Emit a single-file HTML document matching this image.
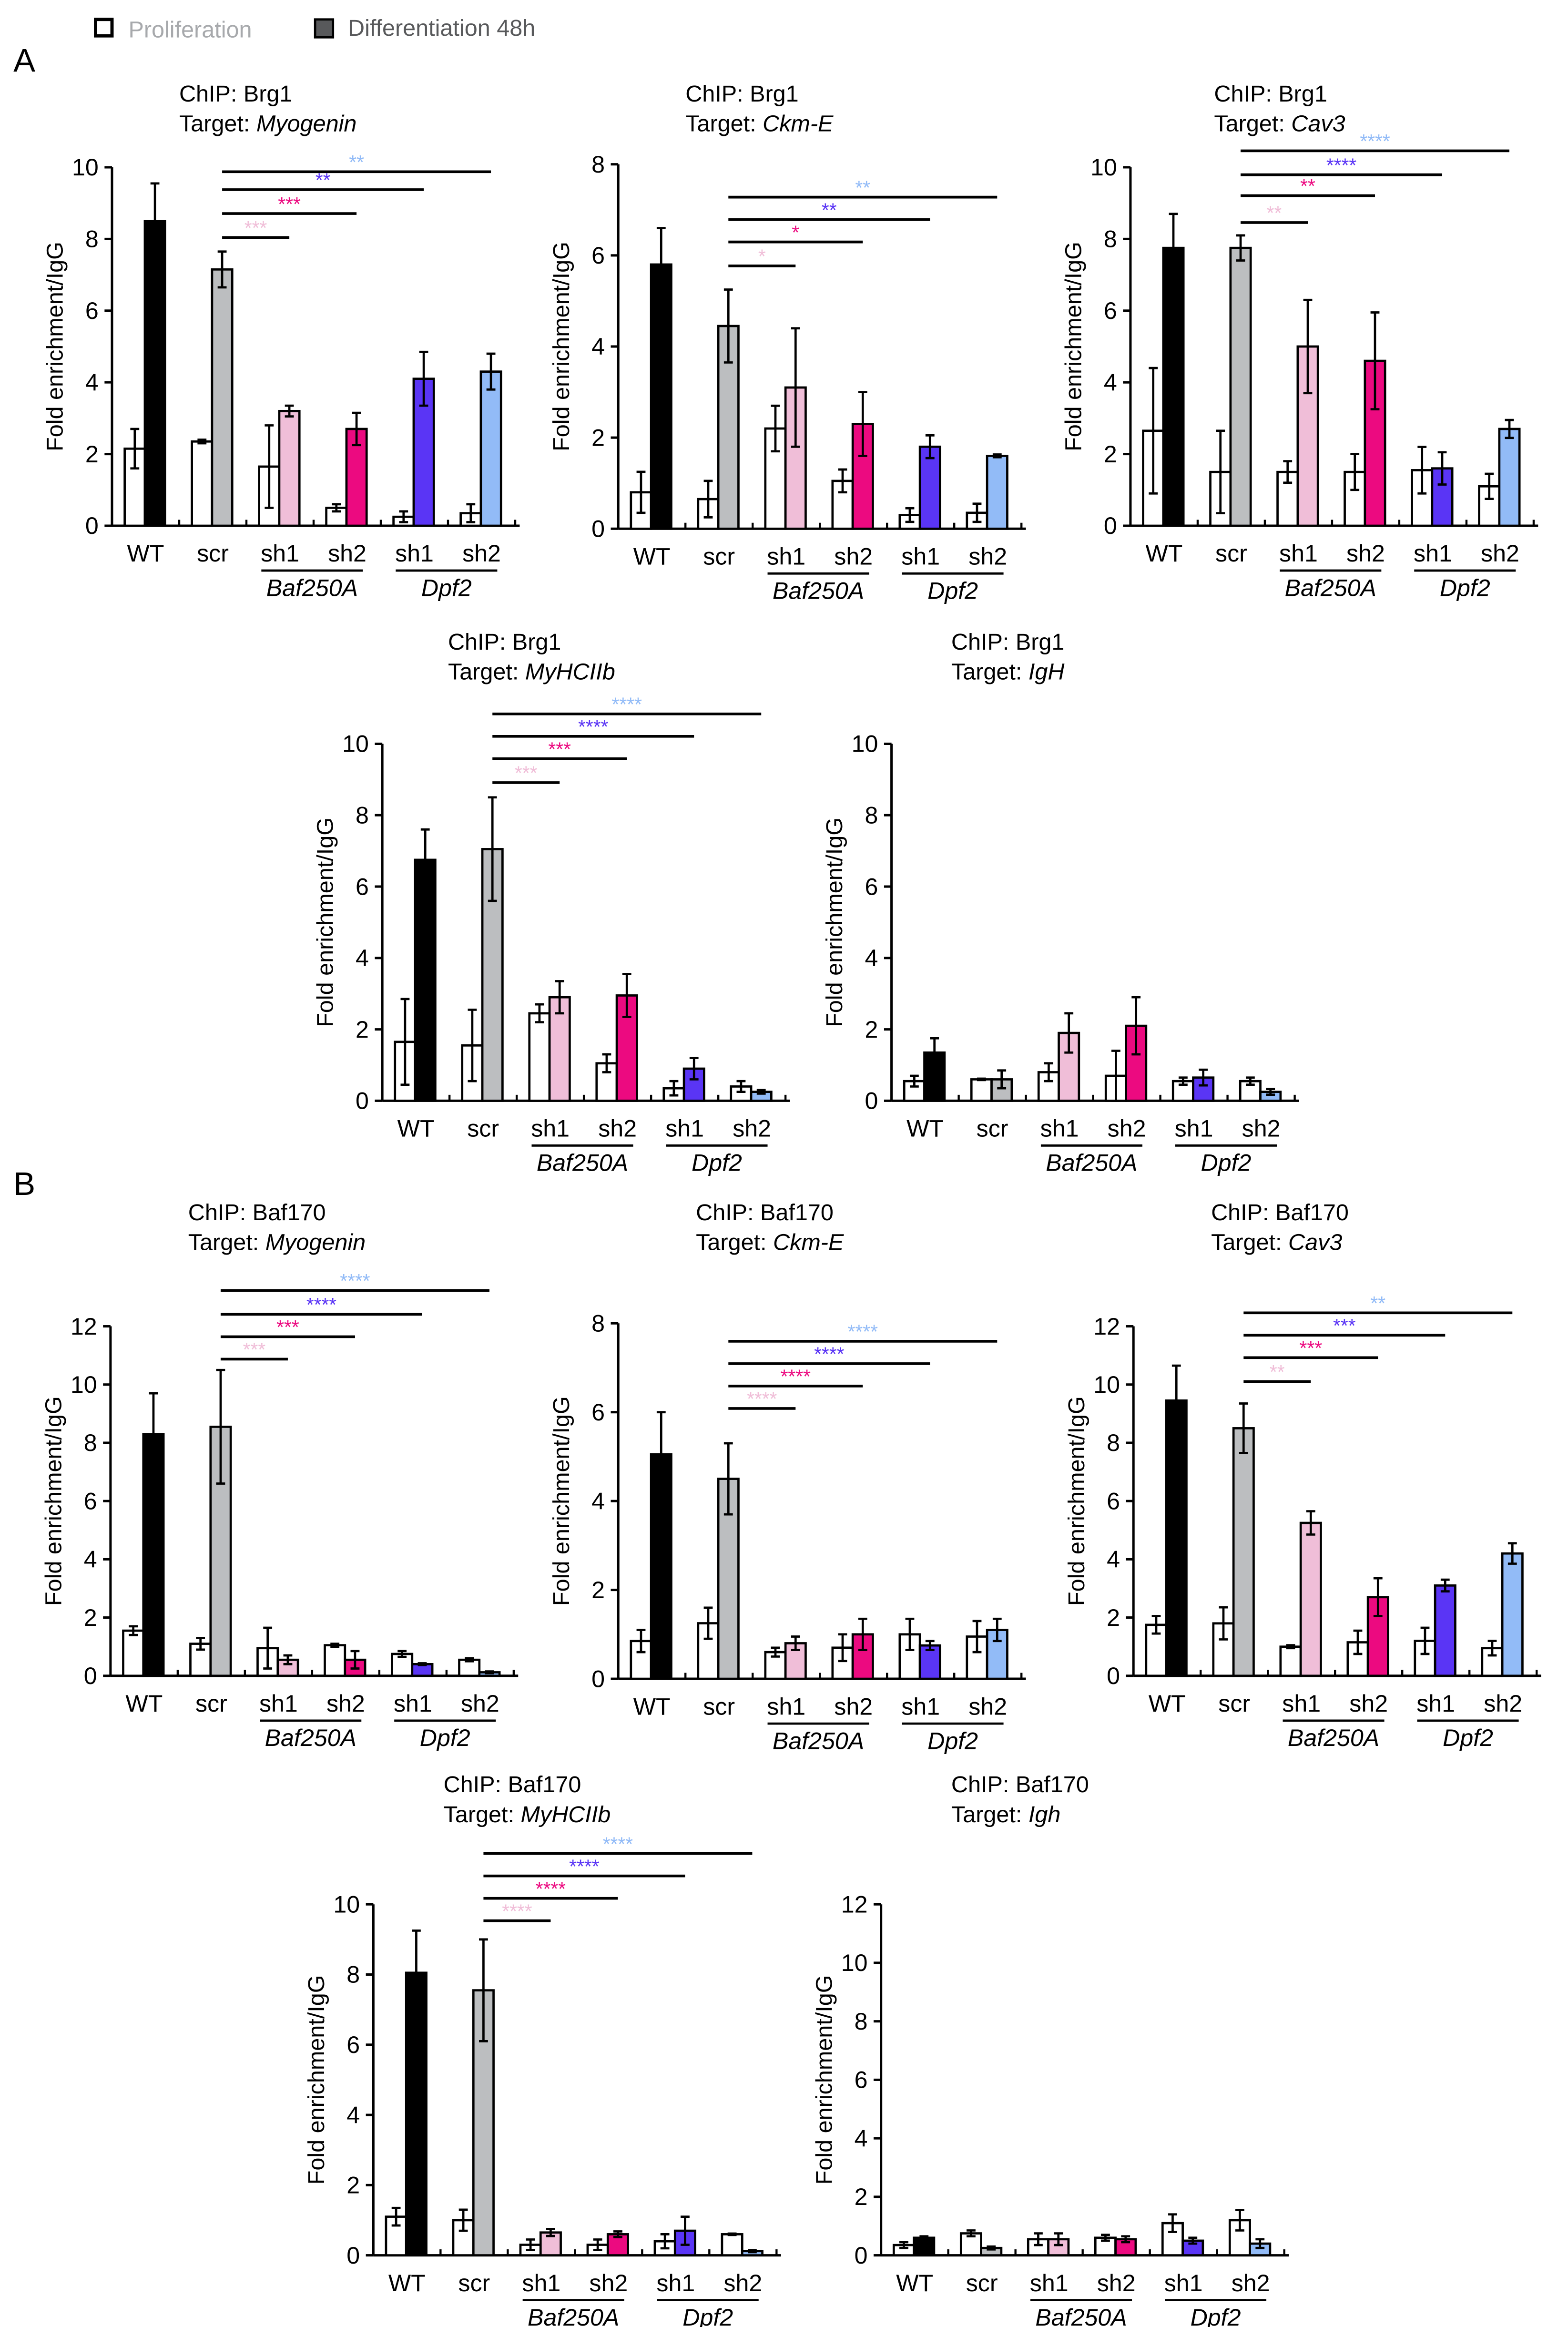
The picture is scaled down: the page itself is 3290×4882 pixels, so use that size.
<!DOCTYPE html>
<html><head><meta charset="utf-8"><style>
html,body{margin:0;padding:0;background:#fff;}
svg{display:block;font-family:"Liberation Sans",Arial,sans-serif;}
</style></head><body>
<svg id="fig" xmlns="http://www.w3.org/2000/svg" width="3290" height="4882" viewBox="0 0 1050 1558" preserveAspectRatio="none">
<rect x="0" y="0" width="1050" height="1558" fill="#fff"/>
<g>
<rect x="64" y="13" width="11" height="11" fill="#fff" stroke="#000" stroke-width="2.2"/>
<text x="86" y="25" font-size="15.5" fill="#a7a9ac">Proliferation</text>
<rect x="211" y="13" width="12" height="12" fill="#58595b" stroke="#000" stroke-width="1.5"/>
<text x="233" y="24" font-size="15.5" fill="#58595b">Differentiation 48h</text>
</g>
<text x="9" y="48" font-size="22">A</text>
<text x="9" y="800" font-size="22">B</text>
</svg>
<script>
const categories=["WT","scr","sh1","sh2","sh1","sh2"];
const diffColors=["#000","#bcbec0","#f0bed8","#ec0a80","#5a35f5","#92bbf7"];
const starColors=["#f0bed8","#ec0a80","#5a35f5","#92bbf7"];
// A1 Brg1 Myogenin
const a1Prolif=[2.15,2.35,1.65,0.5,0.25,0.35];
const a1ProlifErr=[0.55,0.05,1.15,0.1,0.15,0.25];
const a1Diff=[8.5,7.15,3.2,2.7,4.1,4.3];
const a1DiffErr=[1.05,0.5,0.15,0.45,0.75,0.5];
const a1Stars=["***","***","**","**"];
// A2 Brg1 Ckm-E
const a2Prolif=[0.8,0.65,2.2,1.05,0.3,0.35];
const a2ProlifErr=[0.45,0.4,0.5,0.25,0.15,0.2];
const a2Diff=[5.8,4.45,3.1,2.3,1.8,1.6];
const a2DiffErr=[0.8,0.8,1.3,0.7,0.25,0.03];
const a2Stars=["*","*","**","**"];
// A3 Brg1 Cav3
const a3Prolif=[2.65,1.5,1.5,1.5,1.55,1.1];
const a3ProlifErr=[1.75,1.15,0.3,0.5,0.65,0.35];
const a3Diff=[7.75,7.75,5.0,4.6,1.6,2.7];
const a3DiffErr=[0.95,0.35,1.3,1.35,0.45,0.25];
const a3Stars=["**","**","****","****"];
// A4 Brg1 MyHCIIb
const a4Prolif=[1.65,1.55,2.45,1.05,0.35,0.4];
const a4ProlifErr=[1.2,1.0,0.25,0.25,0.2,0.15];
const a4Diff=[6.75,7.05,2.9,2.95,0.9,0.25];
const a4DiffErr=[0.85,1.45,0.45,0.6,0.3,0.05];
const a4Stars=["***","***","****","****"];
// A5 Brg1 IgH
const a5Prolif=[0.55,0.6,0.8,0.7,0.55,0.55];
const a5ProlifErr=[0.15,0.02,0.25,0.7,0.1,0.1];
const a5Diff=[1.35,0.6,1.9,2.1,0.65,0.25];
const a5DiffErr=[0.4,0.25,0.55,0.8,0.22,0.08];
const a5Stars=[];
// B1 Baf170 Myogenin
const b1Prolif=[1.55,1.1,0.95,1.05,0.75,0.55];
const b1ProlifErr=[0.15,0.2,0.7,0.05,0.1,0.05];
const b1Diff=[8.3,8.55,0.55,0.55,0.4,0.12];
const b1DiffErr=[1.4,1.95,0.15,0.3,0.03,0.03];
const b1Stars=["***","***","****","****"];
// B2 Baf170 Ckm-E
const b2Prolif=[0.85,1.25,0.6,0.7,1.0,0.95];
const b2ProlifErr=[0.25,0.35,0.1,0.3,0.35,0.35];
const b2Diff=[5.05,4.5,0.8,1.0,0.75,1.1];
const b2DiffErr=[0.95,0.8,0.15,0.35,0.1,0.25];
const b2Stars=["****","****","****","****"];
// B3 Baf170 Cav3
const b3Prolif=[1.75,1.8,1.0,1.15,1.2,0.95];
const b3ProlifErr=[0.3,0.55,0.05,0.4,0.45,0.25];
const b3Diff=[9.45,8.5,5.25,2.7,3.1,4.2];
const b3DiffErr=[1.2,0.85,0.4,0.65,0.2,0.35];
const b3Stars=["**","***","***","**"];
// B4 Baf170 MyHCIIb
const b4Prolif=[1.1,1.0,0.3,0.3,0.4,0.6];
const b4ProlifErr=[0.25,0.3,0.15,0.15,0.2,0.02];
const b4Diff=[8.05,7.55,0.65,0.6,0.7,0.12];
const b4DiffErr=[1.2,1.45,0.1,0.08,0.4,0.03];
const b4Stars=["****","****","****","****"];
// B5 Baf170 Igh
const b5Prolif=[0.35,0.75,0.55,0.6,1.1,1.2];
const b5ProlifErr=[0.1,0.1,0.2,0.1,0.3,0.35];
const b5Diff=[0.6,0.25,0.55,0.55,0.5,0.4];
const b5DiffErr=[0.05,0.05,0.2,0.1,0.1,0.15];
const b5Stars=[];

const NS="http://www.w3.org/2000/svg";
const svg=document.getElementById('fig');
function mk(tag,attrs,parent){const e=document.createElementNS(NS,tag);for(const k in attrs)e.setAttribute(k,attrs[k]);(parent||svg).appendChild(e);return e;}

const panels=[
 {id:'a1',chip:'Brg1',target:'Myogenin',ax:75,y0:352,ytop:112,ymax:10,tx:120,ty:68,sigY:[159,143,127,115],p:a1Prolif,pe:a1ProlifErr,d:a1Diff,de:a1DiffErr,s:a1Stars},
 {id:'a2',chip:'Brg1',target:'Ckm-E',ax:414,y0:354,ytop:110,ymax:8,tx:459,ty:68,sigY:[178,162,147,132],p:a2Prolif,pe:a2ProlifErr,d:a2Diff,de:a2DiffErr,s:a2Stars},
 {id:'a3',chip:'Brg1',target:'Cav3',ax:757,y0:352,ytop:112,ymax:10,tx:813,ty:68,sigY:[149,131,117,101],p:a3Prolif,pe:a3ProlifErr,d:a3Diff,de:a3DiffErr,s:a3Stars},
 {id:'a4',chip:'Brg1',target:'MyHCIIb',ax:256,y0:737,ytop:498,ymax:10,tx:300,ty:435,sigY:[524,508,493,478],p:a4Prolif,pe:a4ProlifErr,d:a4Diff,de:a4DiffErr,s:a4Stars},
 {id:'a5',chip:'Brg1',target:'IgH',ax:597,y0:737,ytop:498,ymax:10,tx:637,ty:435,sigY:[],p:a5Prolif,pe:a5ProlifErr,d:a5Diff,de:a5DiffErr,s:a5Stars},
 {id:'b1',chip:'Baf170',target:'Myogenin',ax:74,y0:1122,ytop:888,ymax:12,tx:126,ty:817,sigY:[910,895,880,864],p:b1Prolif,pe:b1ProlifErr,d:b1Diff,de:b1DiffErr,s:b1Stars},
 {id:'b2',chip:'Baf170',target:'Ckm-E',ax:414,y0:1124,ytop:886,ymax:8,tx:466,ty:817,sigY:[943,928,913,898],p:b2Prolif,pe:b2ProlifErr,d:b2Diff,de:b2DiffErr,s:b2Stars},
 {id:'b3',chip:'Baf170',target:'Cav3',ax:759,y0:1122,ytop:888,ymax:12,tx:811,ty:817,sigY:[925,909,894,879],p:b3Prolif,pe:b3ProlifErr,d:b3Diff,de:b3DiffErr,s:b3Stars},
 {id:'b4',chip:'Baf170',target:'MyHCIIb',ax:250,y0:1510,ytop:1275,ymax:10,tx:297,ty:1200,sigY:[1286,1271,1256,1241],p:b4Prolif,pe:b4ProlifErr,d:b4Diff,de:b4DiffErr,s:b4Stars},
 {id:'b5',chip:'Baf170',target:'Igh',ax:590,y0:1510,ytop:1275,ymax:12,tx:637,ty:1200,sigY:[],p:b5Prolif,pe:b5ProlifErr,d:b5Diff,de:b5DiffErr,s:b5Stars}
];
const GW=45, BW=13.5, OFF=8.5;

panels.forEach(P=>{
 const g=mk('g',{});
 
 
 const yS=v=>P.y0-(v/P.ymax)*(P.y0-P.ytop);
 const gx=i=>P.ax+i*GW;
 const t1=mk('text',{x:P.tx,y:P.ty,'font-size':15.5},g);t1.textContent='ChIP: '+P.chip;
 
 
 const t2=mk('text',{x:P.tx,y:P.ty+20,'font-size':15.5},g);
 
 
 t2.appendChild(document.createTextNode('Target: '));
 const ts=mk('tspan',{'font-style':'italic'},t2);ts.textContent=P.target;
 const ya=mk('line',{x1:P.ax,y1:P.ytop,x2:P.ax,y2:P.y0,stroke:'#000','stroke-width':1.6},g);
 
 
 for(let v=0;v<=P.ymax;v+=2){
  const y=yS(v);
  mk('line',{x1:P.ax-5,y1:y,x2:P.ax,y2:y,stroke:'#000','stroke-width':1.6},g);
  const tl=mk('text',{x:P.ax-9,y:y+5.5,'font-size':16,'text-anchor':'end'},g);tl.textContent=v;
  
  
 }
 const yt=mk('text',{x:0,y:0,'font-size':15.5,'text-anchor':'middle',transform:`translate(${P.ax-33},${(P.y0+P.ytop)/2}) rotate(-90)`},g);
 yt.textContent='Fold enrichment/IgG';
 
 
 const xa=mk('line',{x1:P.ax,y1:P.y0,x2:P.ax+6*GW+3,y2:P.y0,stroke:'#000','stroke-width':1.6},g);
 
 
 for(let i=1;i<=6;i++)mk('line',{x1:gx(i),y1:P.y0-4,x2:gx(i),y2:P.y0,stroke:'#000','stroke-width':1.4},g);
 categories.forEach((c,i)=>{
  const xl=mk('text',{x:gx(i)+GW/2,y:P.y0+24,'font-size':16,'text-anchor':'middle'},g);xl.textContent=c;
  
  
  [[P.p[i],P.pe[i],'#fff',OFF],[P.d[i],P.de[i],diffColors[i],OFF+BW]].forEach(([v,e,col,o],k)=>{
   const x=gx(i)+o, y=yS(v);
   const r=mk('rect',{x:x,y:y,width:BW,height:P.y0-y,fill:col,stroke:'#000','stroke-width':1.5},g);
   
   
   const cx=x+BW/2, yh=yS(v+e), yl=yS(Math.max(0,v-e));
   const eb=mk('path',{d:`M${cx},${yh}V${yl}M${cx-3},${yh}H${cx+3}M${cx-3},${yl}H${cx+3}`,stroke:'#000','stroke-width':1.5,fill:'none'},g);
   
   
  });
 });
 [['Baf250A',2],['Dpf2',4]].forEach(([n,i])=>{
  mk('line',{x1:gx(i)+10,y1:P.y0+30,x2:gx(i+2)-12,y2:P.y0+30,stroke:'#000','stroke-width':1.5},g);
  const gl=mk('text',{x:gx(i)+GW-1,y:P.y0+47,'font-size':16,'font-style':'italic','text-anchor':'middle'},g);gl.textContent=n;
  
  
 });
 const xs=gx(1)+OFF+BW*1.5;
 P.s.forEach((st,j)=>{
  const xe=gx(j+2)+OFF+BW*1.5, y=P.sigY[j];
  const sl=mk('line',{x1:xs,y1:y,x2:xe,y2:y,stroke:'#000','stroke-width':1.8},g);
  
  
  const stx=mk('text',{x:(xs+xe)/2,y:y-2,'font-size':13,'text-anchor':'middle',fill:starColors[j]},g);stx.textContent=st;
  
  
 });
});
</script>
</body></html>
